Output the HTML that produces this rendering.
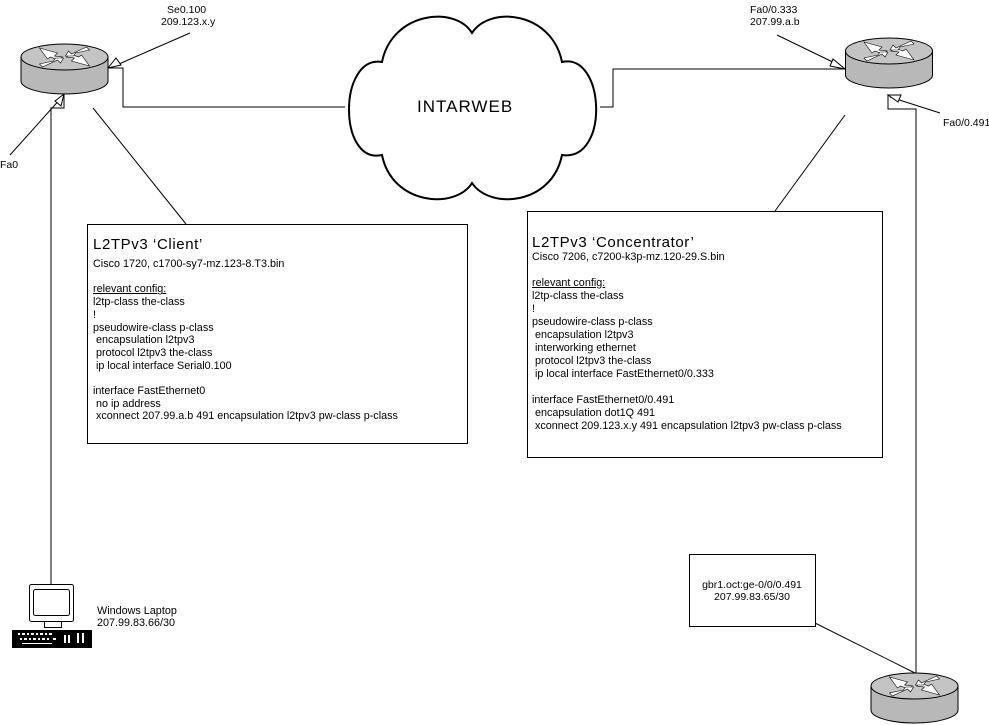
<!DOCTYPE html>
<html><head><meta charset="utf-8"><style>
body{margin:0;background:#fff;}
#c{position:relative;width:989px;height:725px;overflow:hidden;font-family:"Liberation Sans",Arial,sans-serif;color:#000;}
.t{position:absolute;font-size:10.5px;line-height:12px;white-space:pre;}
svg{position:absolute;left:0;top:0;}
</style></head><body><div id="c">
<svg width="989" height="725" viewBox="0 0 989 725">
<defs>
<g id="rt">
 <path d="M-43.5,0 L-43.5,24 A43.5,13 0 0 0 43.5,24 L43.5,0 Z" fill="#b8b8b8" stroke="#000" stroke-width="1"/>
 <ellipse cx="0" cy="0" rx="43.5" ry="13" fill="#c4c4c4" stroke="#000" stroke-width="1"/>
 <path d="M-25,-9 L-7,-4 L-10,-1 L-2,0 L-6,3 L-14,0 L-17,2 Z" fill="#fff" stroke="#000" stroke-width="0.6"/>
 <path d="M25,9 L7,4 L10,1 L2,0 L6,-3 L14,0 L17,-2 Z" fill="#fff" stroke="#000" stroke-width="0.6"/>
 <path d="M-22,10 L-7,3 L-4,6 L-1,1 L-9,1 L-11,4 L-25,7 Z" fill="#fff" stroke="#000" stroke-width="0.6"/>
 <path d="M22,-10 L7,-3 L4,-6 L1,-1 L9,-1 L11,-4 L25,-7 Z" fill="#fff" stroke="#000" stroke-width="0.6"/>
</g>
</defs>
<g stroke="#000" stroke-width="1" fill="none">
 <polyline points="345,107 123,107 123,68 108,68"/>
 <line x1="190" y1="33" x2="112" y2="67"/>
 <polyline points="51,585 51,108 64,108 64,94"/>
 <line x1="10" y1="155" x2="62" y2="97"/>
 <line x1="93" y1="108" x2="186" y2="224"/>
 <polyline points="600,107 613,107 613,69 845,69"/>
 <line x1="777" y1="35" x2="843" y2="67"/>
 <polyline points="916,673 916,109 888,109 888,95"/>
 <line x1="940" y1="113" x2="890" y2="97"/>
 <line x1="845" y1="115" x2="775" y2="211"/>
 <line x1="815" y1="623" x2="915" y2="673"/>
</g>
<g fill="#fff" stroke="#000" stroke-width="1">
 <polygon points="108,68 116,58 121,65"/>
 <polygon points="64,94 55,101 61,106"/>
 <polygon points="845,69 833,59 830,66"/>
 <polygon points="888,95 901,95 898,102"/>
</g>
<path d="M382,62 C392,12 455,5 472,33 C490,5 552,12 562,62 C605,52 610,162 562,155 C552,205 490,210 472,183 C455,210 392,205 382,155 C338,165 338,55 382,62 Z" fill="#fff" stroke="#000" stroke-width="2"/>
<use href="#rt" x="64.5" y="57"/>
<use href="#rt" x="889" y="51"/>
<use href="#rt" x="914.5" y="686"/>
<rect x="87.5" y="224.5" width="380" height="219" fill="#fff" stroke="#000"/>
<rect x="527.5" y="211.5" width="355" height="246" fill="#fff" stroke="#000"/>
<rect x="689.5" y="554.5" width="126" height="72" fill="#fff" stroke="#000"/>
<rect x="29.5" y="584.5" width="44" height="37" rx="2" fill="#fff" stroke="#000"/>
<rect x="33.5" y="589.5" width="36" height="26" rx="2" fill="#fff" stroke="#000"/>
<rect x="44.5" y="621.5" width="17" height="6" fill="#fff" stroke="#000"/>
<rect x="12" y="630" width="80" height="18" fill="#000"/>
<g fill="#fff">
 <rect x="18" y="633" width="2" height="2"/><rect x="22" y="633" width="3" height="2"/><rect x="27" y="633" width="2" height="2"/><rect x="31" y="633" width="3" height="2"/><rect x="36" y="633" width="2" height="2"/><rect x="40" y="633" width="3" height="2"/><rect x="45" y="633" width="2" height="2"/><rect x="49" y="633" width="3" height="2"/>
 <rect x="20" y="638" width="2" height="2"/><rect x="24" y="638" width="3" height="2"/><rect x="29" y="638" width="2" height="2"/><rect x="33" y="638" width="3" height="2"/><rect x="38" y="638" width="2" height="2"/><rect x="42" y="638" width="3" height="2"/><rect x="47" y="638" width="2" height="2"/><rect x="53" y="638" width="3" height="2"/>
 <rect x="64" y="635" width="2" height="8"/><rect x="68" y="635" width="2" height="8"/><rect x="77" y="633" width="2" height="10"/><rect x="82" y="633" width="2" height="10"/>
 <rect x="22" y="643" width="30" height="1"/>
</g>
</svg>
<div class="t" style="left:167px;top:4px;">Se0.100</div>
<div class="t" style="left:161px;top:16px;">209.123.x.y</div>
<div class="t" style="left:0px;top:159px;">Fa0</div>
<div class="t" style="left:750px;top:4px;">Fa0/0.333</div>
<div class="t" style="left:750px;top:16px;">207.99.a.b</div>
<div class="t" style="left:943px;top:117px;">Fa0/0.491</div>
<div class="t" style="left:417px;top:97px;font-size:17px;line-height:20px;letter-spacing:1px;">INTARWEB</div>
<div class="t" style="left:97px;top:605px;font-size:10.8px;">Windows Laptop
207.99.83.66/30</div>
<div class="t" style="left:689px;top:579px;width:126px;text-align:center;">gbr1.oct:ge-0/0/0.491
207.99.83.65/30</div>
<div class="t" style="left:93px;top:236px;font-size:15px;line-height:18px;letter-spacing:0.6px;">L2TPv3 ‘Client’</div>
<div class="t" style="left:93px;top:258px;font-size:10.8px;line-height:12.7px;">Cisco 1720, c1700-sy7-mz.123-8.T3.bin

<u>relevant config:</u>
l2tp-class the-class
!
pseudowire-class p-class
 encapsulation l2tpv3
 protocol l2tpv3 the-class
 ip local interface Serial0.100

interface FastEthernet0
 no ip address
 xconnect 207.99.a.b 491 encapsulation l2tpv3 pw-class p-class</div>
<div class="t" style="left:532px;top:234px;font-size:15px;line-height:18px;letter-spacing:0.6px;">L2TPv3 ‘Concentrator’</div>
<div class="t" style="left:532px;top:250.5px;font-size:10.8px;line-height:13px;">Cisco 7206, c7200-k3p-mz.120-29.S.bin

<u>relevant config:</u>
l2tp-class the-class
!
pseudowire-class p-class
 encapsulation l2tpv3
 interworking ethernet
 protocol l2tpv3 the-class
 ip local interface FastEthernet0/0.333

interface FastEthernet0/0.491
 encapsulation dot1Q 491
 xconnect 209.123.x.y 491 encapsulation l2tpv3 pw-class p-class</div>
</div></body></html>
